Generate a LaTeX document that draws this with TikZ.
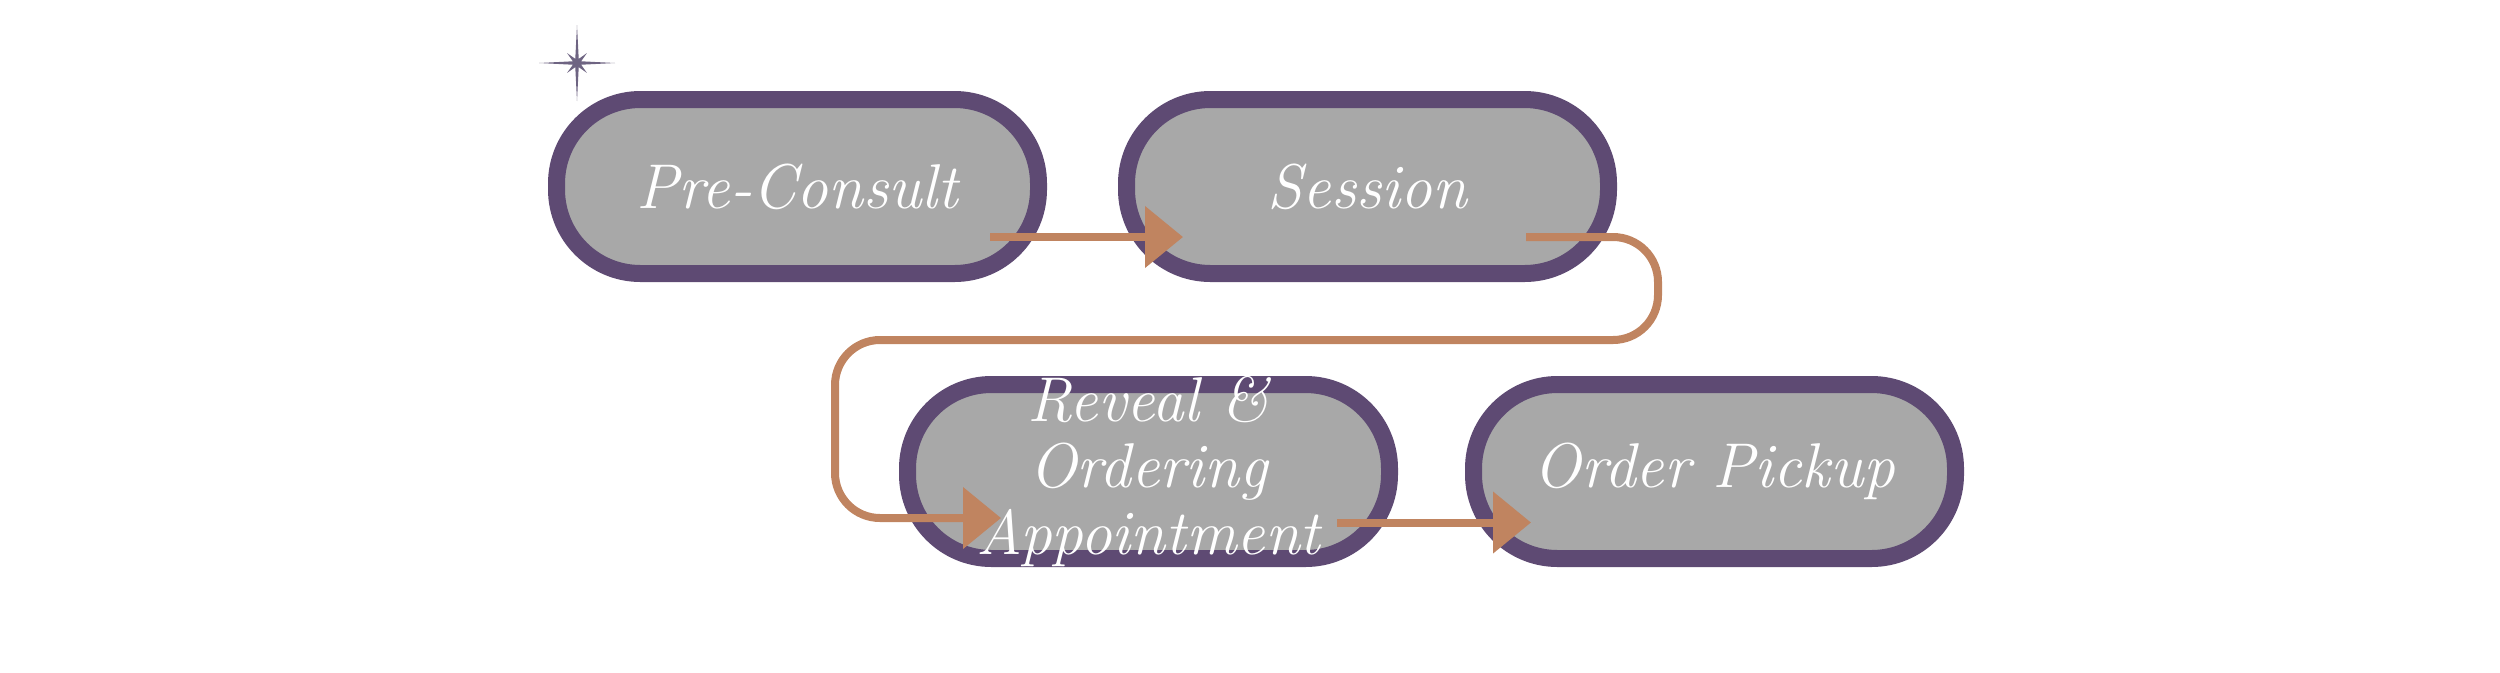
\documentclass[tikz,border=0pt]{standalone}
\usepackage{fontspec}
\usetikzlibrary{arrows.meta, positioning}

\definecolor{plum}{RGB}{94,74,115}
\definecolor{boxgray}{RGB}{168,168,168}
\definecolor{copper}{RGB}{192,132,96}
\definecolor{starc}{RGB}{110,100,130}

\begin{document}
\begin{tikzpicture}[font=\itshape,node distance=0.7cm,>={Triangle[length=0.38cm,width=0.6cm]},line width=0.08cm]

		\useasboundingbox (0,0) rectangle (25,-6.72);

		\tikzset{node st/.style={rectangle, rounded corners=0.84cm,
								draw=plum, line width=0.17cm,
								fill=boxgray, text=white,
								minimum width=4.82cm, minimum height=1.74cm,
								align=center,
								font=\itshape\fontsize{18}{19}\selectfont},
				 node txt/.style={text=white, align=center,
								font=\itshape\fontsize{18}{19}\selectfont}}

		\node[node st] (pre) at (7.975,-1.865) {Pre-Consult};
		\node[node st, right=0.71cm of pre] (ses) {Session};
		\node[node st] (rev) at (11.485,-4.715) {};
		\node[node st, right=0.67cm of rev] (ord) {Order Pickup};

		\draw[copper]
		([shift={(-0.57,-0.505)}]pre.east) edge[->] ([shift={(0.65,-0.505)}]ses.west)
		([shift={(-0.61,-0.51)}]rev.east) edge[->] ([shift={(0.66,-0.51)}]ord.west);
		\draw[->, copper, rounded corners=0.45cm]
		([shift={(-0.91,-0.505)}]ses.east) -- ++(1.32,0) |- ++(-8.23,-1.03)
		|- ([shift={(1.02,-0.465)}]rev.west);

		\node[node txt] (revtxt) at (rev.center) {Reveal \&\\Ordering\\Appointment};

		\fill[starc, shift={(5.77,-0.63)}] (0:0.38)
		\foreach \a in {0,90,180,270} {-- (\a+22.5:0.045) -- (\a+45:0.14)
		-- (\a+67.5:0.045) -- (\a+90:0.38)} -- cycle;
		\end{tikzpicture}
\end{document}
